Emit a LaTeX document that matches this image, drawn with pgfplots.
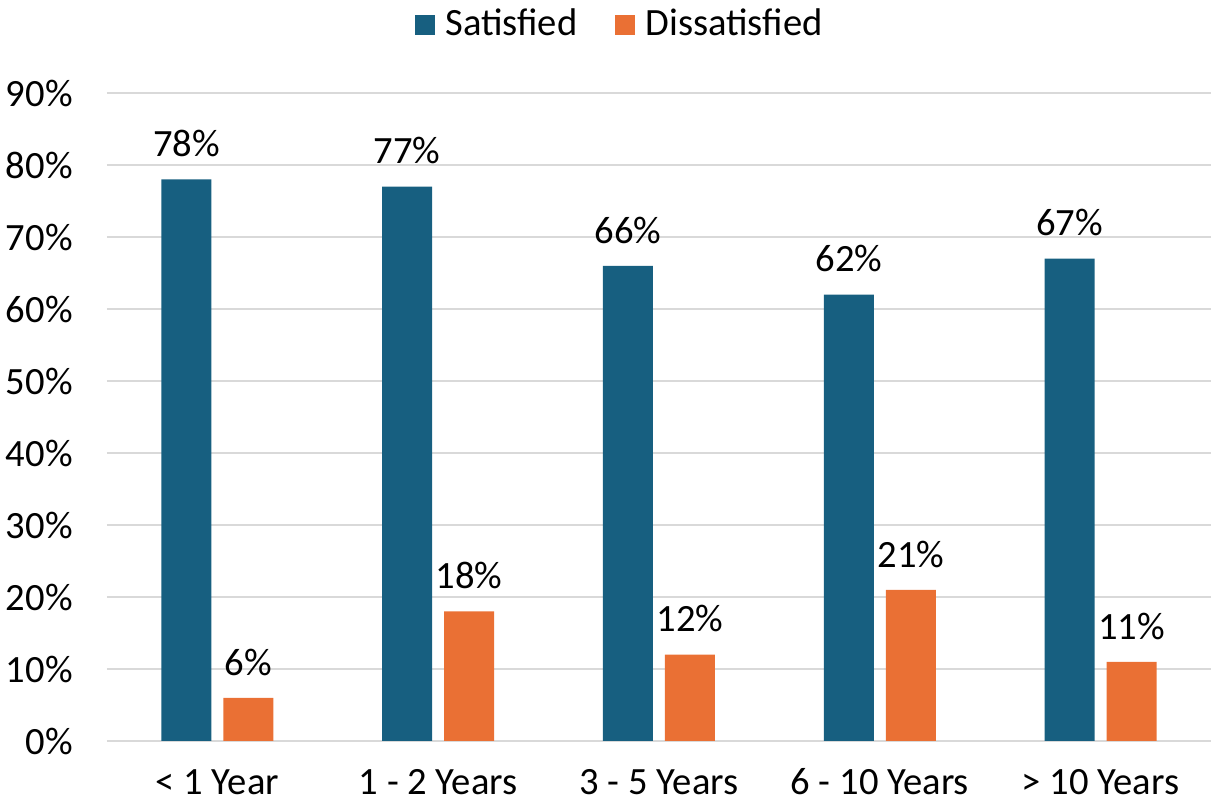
\documentclass[border=0pt]{standalone}
\usepackage{pgfplots}
\pgfplotsset{compat=1.18}
\usepackage{fontspec}
\setmainfont{Carlito}
\definecolor{satblue}{HTML}{175F80}
\definecolor{disorange}{HTML}{EA7034}
\definecolor{gridgray}{HTML}{D9D9D9}
\pgfplotsset{sqlegend/.style={legend image code/.code={\fill[##1] (0pt,-5.2pt) rectangle (10pt,5.2pt);}}}
\begin{document}
\fontsize{19.3}{23}\selectfont
\begin{tikzpicture}
\useasboundingbox (-53.5pt,-31.5pt) rectangle (552.5pt,370.5pt);
\begin{axis}[
  at={(0pt,0pt)}, anchor=south west,
  scale only axis, width=552pt, height=324pt,
  ybar=6pt, bar width=25pt,
  xmin=-0.5, xmax=4.5, ymin=0, ymax=90,
  xtick={0,1,2,3,4},
  xticklabels={{< 1 Year},{1 - 2 Years},{3 - 5 Years},{6 - 10 Years},{> 10 Years}},
  ytick={0,10,...,90},
  yticklabel={\pgfmathprintnumber{\tick}\%},
  /pgf/number format/assume math mode=true,
  ymajorgrids, grid style={gridgray, line width=1.1pt},
  axis line style={draw=none},
  major tick length=0pt,
  ticklabel style={font=\fontsize{19.3}{23}\selectfont},
  yticklabel style={anchor=east, inner sep=0pt, xshift=-17pt},
  xticklabel style={anchor=base, inner sep=0pt, text depth=0pt, yshift=-27pt},
  nodes near coords={\pgfmathprintnumber{\pgfplotspointmeta}\%},
  every node near coord/.append style={font=\fontsize{19.3}{23}\selectfont, anchor=south, inner sep=0pt, yshift=11pt, text=black},
  legend columns=2,
  legend style={at={(0.4656,1.105)}, anchor=center, draw=none, fill=none,
    font=\fontsize{19.3}{23}\selectfont,
    /tikz/every odd column/.append style={column sep=3pt},
    /tikz/every even column/.append style={column sep=17pt},
    legend cell align=left},
]
\addplot[fill=satblue, draw=none, sqlegend] coordinates {(0,78) (1,77) (2,66) (3,62) (4,67)};
\addplot[fill=disorange, draw=none, sqlegend] coordinates {(0,6) (1,18) (2,12) (3,21) (4,11)};
\legend{Satisfied, Dissatisfied}
\end{axis}
\end{tikzpicture}
\end{document}
